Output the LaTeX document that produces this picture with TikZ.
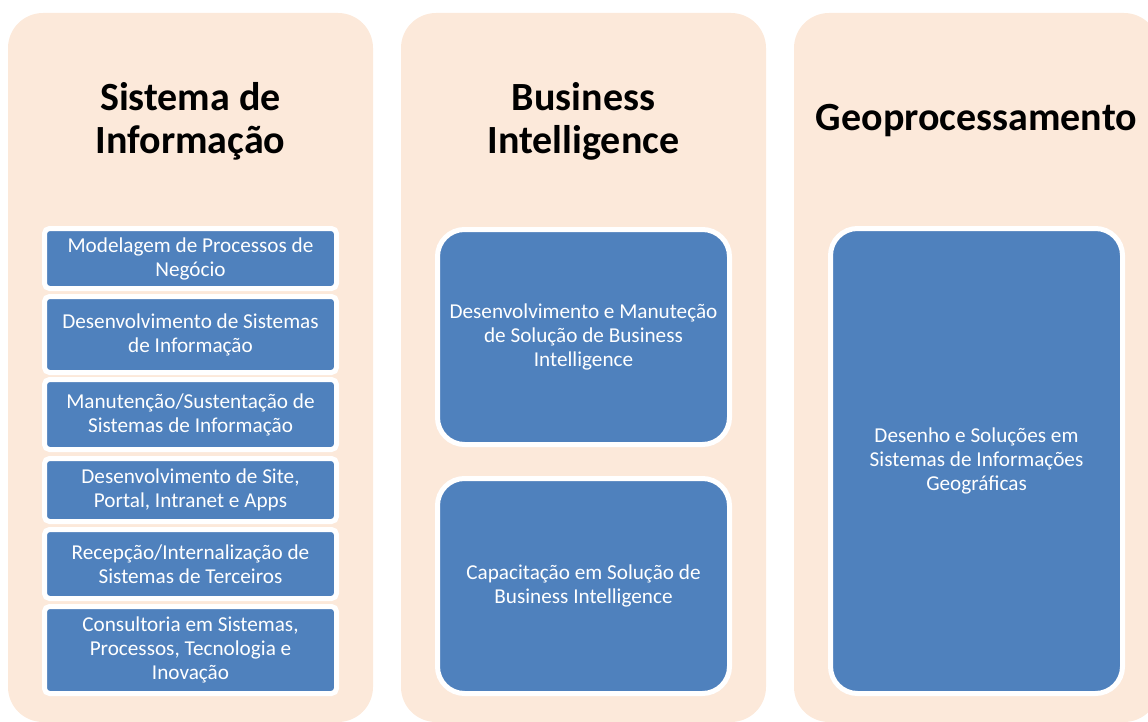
\documentclass[tikz,border=0pt]{standalone}
\usepackage{fontspec}
\setmainfont{Carlito}
\usepackage{tikz}
\usetikzlibrary{positioning}
\definecolor{panelfill}{HTML}{FCE9DA}
\definecolor{boxblue}{HTML}{4F81BD}

\begin{document}
\begin{tikzpicture}[x=1pt,y=-1pt,
  panel/.style={fill=panelfill,rounded corners=35pt},
  titel/.style={font=\bfseries\fontsize{40}{43}\selectfont,align=center,text=black},
  item/.style={draw=white,line width=5pt,fill=boxblue,rounded corners=5pt,text=white,
    align=center,font=\fontsize{21.2}{24}\selectfont,minimum width=292pt,inner sep=0pt},
  bigitem/.style={item,rounded corners=27pt}]
%Spaltenbreite und Abstand in px der Vorlage
  \pgfmathsetmacro{\bWert}{365}
  \pgfmathsetmacro{\dWert}{28}
  \pgfmathsetmacro{\xA}{8+\bWert/2}
  \pgfmathsetmacro{\xB}{\xA+\bWert+\dWert}
  \pgfmathsetmacro{\xC}{\xB+\bWert+\dWert}
\useasboundingbox (0,0) rectangle (1148,722);
\foreach \px in {8,401,794}{
\fill[panel] (\px,13) rectangle ++(\bWert,709);
}
%Ueberschriften
\node[titel] (tsi) at (\xA,121) {Sistema de\\Informação};
\node[titel] (tbi) at (\xB,121) {Business\\Intelligence};
\node[titel] (tgeo) at (\xC,121) {Geoprocessamento};
%linke Spalte: Oberkante/Unterkante der blauen Flaeche
\foreach \n/\yt/\yb/\txt in {
  si1/231/286/{Modelagem de Processos de\\Negócio},
  si2/299/370/{Desenvolvimento de Sistemas\\de Informação},
  si3/382/447/{Manutenção/Sustentação de\\Sistemas de Informação},
  si4/461/519/{Desenvolvimento de Site,\\Portal, Intranet e Apps},
  si5/532/596/{Recepção/Internalização de\\Sistemas de Terceiros},
  si6/609/691/{Consultoria em Sistemas,\\Processos, Tecnologia e\\Inovação}}{
\node[item,minimum height=\yb-\yt+5] (\n) at (\xA,{(\yt+\yb)/2}) {\txt};
}
%mittlere und rechte Spalte
\node[bigitem,minimum height=215] (bi1) at (\xB,337) {Desenvolvimento e Manuteção\\de Solução de Business\\Intelligence};
\node[bigitem,minimum height=215] (bi2) at (\xB,586) {Capacitação em Solução de\\Business Intelligence};
\node[bigitem,minimum height=465] (geo1) at (\xC,461) {Desenho e Soluções em\\Sistemas de Informações\\Geográficas};
\end{tikzpicture}
\end{document}
